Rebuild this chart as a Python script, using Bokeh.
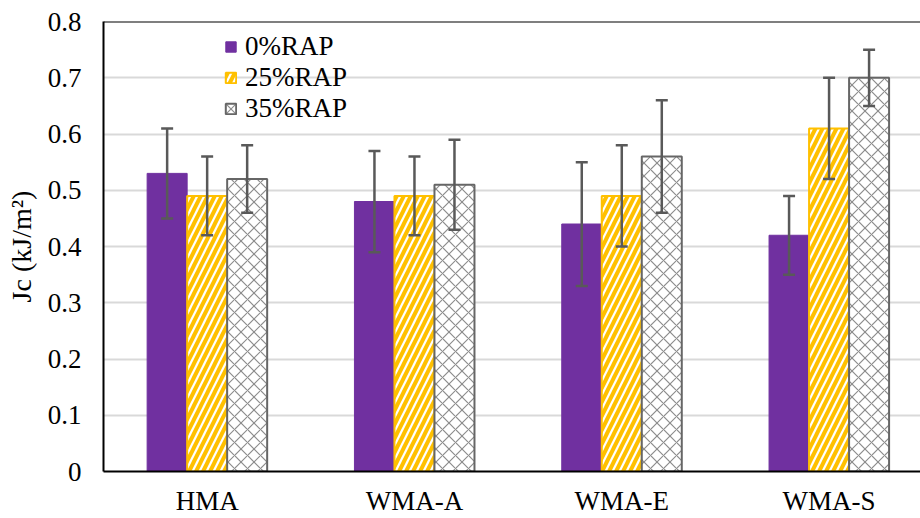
from bokeh.plotting import figure
from bokeh.models import (ColumnDataSource, Range1d, FixedTicker, Whisker, TeeHead,
                          Span, Legend, LegendItem)
from bokeh.embed import file_html
from bokeh.resources import INLINE

# ---- data ----
categories = ["HMA", "WMA-A", "WMA-E", "WMA-S"]
series = ["0%RAP", "25%RAP", "35%RAP"]
jc_0 = [0.53, 0.48, 0.44, 0.42]
jc_25 = [0.49, 0.49, 0.49, 0.61]
jc_35 = [0.52, 0.51, 0.56, 0.70]
err_0 = [0.08, 0.09, 0.11, 0.07]
err_25 = [0.07, 0.07, 0.09, 0.09]
err_35 = [0.06, 0.08, 0.10, 0.05]
y_ticks = [0, 0.1, 0.2, 0.3, 0.4, 0.5, 0.6, 0.7, 0.8]
y_tick_labels = ["0", "0.1", "0.2", "0.3", "0.4", "0.5", "0.6", "0.7", "0.8"]
y_title = "Jc (kJ/m\u00b2)"

# ---- styling ----
FONT = "Liberation Serif"
BAR_W = 0.193
offsets = [-BAR_W, 0.0, BAR_W]
styles = [
    dict(fill_color="#7030A0", line_color="#7030A0", line_width=1),
    dict(fill_color="white", line_color="#FFC000", line_width=2,
         hatch_pattern="/", hatch_color="#FFC000", hatch_scale=14, hatch_weight=4),
    dict(fill_color="white", line_color="#666666", line_width=2,
         hatch_pattern="x", hatch_color="#8c8c8c", hatch_scale=13, hatch_weight=1.2),
]

p = figure(width=920, height=518, output_backend="svg", toolbar_location=None,
           x_range=Range1d(0, 3.941), y_range=Range1d(0, 0.8),
           min_border_left=103, min_border_right=0, min_border_top=21, min_border_bottom=46)
p.outline_line_color = None
p.background_fill_color = "white"
p.border_fill_color = "white"

values = [jc_0, jc_25, jc_35]
errors = [err_0, err_25, err_35]
centers = [i + 0.5 for i in range(len(categories))]

items = []
renderers = []
for k in range(3):
    xs = [c + offsets[k] for c in centers]
    src = ColumnDataSource(dict(x=xs, top=values[k],
                                upper=[v + e for v, e in zip(values[k], errors[k])],
                                lower=[v - e for v, e in zip(values[k], errors[k])]))
    r = p.vbar(x="x", top="top", width=BAR_W, bottom=0, source=src, **styles[k])
    renderers.append((r, src))
    items.append(LegendItem(label=series[k], renderers=[r]))

for r, src in renderers:
    w = Whisker(source=src, base="x", upper="upper", lower="lower",
                line_color="#595959", line_width=2.5, level="overlay",
                upper_head=TeeHead(size=12, line_color="#595959", line_width=2.5),
                lower_head=TeeHead(size=12, line_color="#595959", line_width=2.5))
    p.add_layout(w)

# top border
p.add_layout(Span(location=0.8, dimension="width", line_color="black", line_width=2))

# axes
p.xaxis.ticker = FixedTicker(ticks=centers)
p.xaxis.major_label_overrides = {c: name for c, name in zip(centers, categories)}
p.yaxis.ticker = FixedTicker(ticks=y_ticks)
p.yaxis.major_label_overrides = {t: l for t, l in zip(y_ticks, y_tick_labels)}
for ax in (p.xaxis, p.yaxis):
    ax.axis_line_color = "black"
    ax.axis_line_width = 2
    ax.major_tick_line_color = None
    ax.minor_tick_line_color = None
    ax.major_tick_out = 0
    ax.major_tick_in = 0
    ax.major_label_text_font = FONT
    ax.major_label_text_font_size = "27px"
    ax.major_label_text_color = "black"
p.xaxis.major_label_standoff = 14
p.yaxis.major_label_standoff = 22
p.yaxis.axis_label = y_title
p.yaxis.axis_label_text_font = FONT
p.yaxis.axis_label_text_font_size = "28px"
p.yaxis.axis_label_text_font_style = "normal"
p.yaxis.axis_label_text_color = "black"
p.yaxis.axis_label_standoff = 8

p.xgrid.grid_line_color = None
p.ygrid.ticker = FixedTicker(ticks=y_ticks)
p.ygrid.grid_line_color = "#d9d9d9"
p.ygrid.grid_line_width = 2

legend = Legend(items=items, location=(121, 347), orientation="vertical",
                label_text_font=FONT, label_text_font_size="27px",
                label_text_color="black", label_height=30, label_standoff=8,
                glyph_width=13, glyph_height=13, spacing=0, padding=0, margin=0,
                background_fill_alpha=0, border_line_color=None)
p.add_layout(legend)

open("out.html", "w").write(file_html(p, INLINE))
